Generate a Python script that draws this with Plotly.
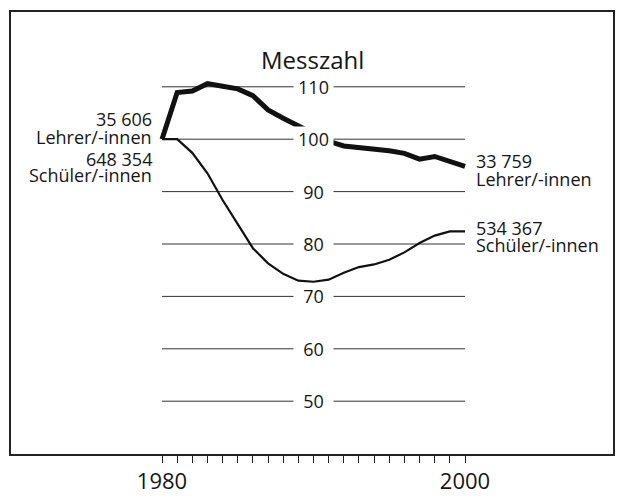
import plotly.graph_objects as go

# ---- data ----
years = list(range(1980, 2001))
lehrer = [100, 108.9, 109.2, 110.6, 110.1, 109.6, 108.3, 105.6, 104.0, 102.5, 101.0,
          99.6, 98.7, 98.4, 98.3, 97.8, 97.3, 96.2, 96.7, 95.8, 94.8]
schueler = [100, 100, 97.4, 93.5, 88.4, 83.7, 79.2, 76.3, 74.3, 73.0, 72.8,
            73.2, 74.5, 75.6, 76.1, 77.0, 78.4, 80.2, 81.6, 82.4, 82.4]
y_ticks = [50, 60, 70, 80, 90, 100, 110]
x_tick_labels = {1980: "1980", 2000: "2000"}
title_text = "Messzahl"
left_labels = ["35 606", "Lehrer/-innen", "648 354", "Schüler/-innen"]
right_lehrer = ["33 759", "Lehrer/-innen"]
right_schueler = ["534 367", "Schüler/-innen"]

FONT = "Open Sans"
TXT = "#151515"

# layout geometry (pixel -> data helpers)
W, H = 617, 498
L, R, T, B = 10, 3, 11, 43
X0_PX, X_PER = 162.0, 15.15    # 1980 pixel, px per year
Y100_PX, Y_PER = 139.2, 5.24   # value 100 pixel, px per unit
def px_x(p):
    return 1980 + (p - X0_PX) / X_PER
def px_y(p):
    return 100 + (Y100_PX - p) / Y_PER

fig = go.Figure()
fig.add_trace(go.Scatter(x=years, y=schueler, mode="lines",
                         line=dict(color="#111111", width=2.2),
                         hoverinfo="skip", showlegend=False))
fig.add_trace(go.Scatter(x=years, y=lehrer, mode="lines",
                         line=dict(color="#111111", width=5),
                         hoverinfo="skip", showlegend=False))

shapes = []
for v in y_ticks:
    shapes.append(dict(type="line", xref="x", yref="y", x0=years[0], x1=years[-1],
                       y0=v, y1=v, line=dict(color="#333333", width=1), layer="below"))
# frame
shapes.append(dict(type="rect", xref="paper", yref="paper", x0=0, x1=1, y0=0, y1=1,
                   line=dict(color="#222222", width=2), layer="above"))

annotations = []
for v in y_ticks:
    annotations.append(dict(x=1990, y=v, xref="x", yref="y", text=str(v), showarrow=False,
                            font=dict(family=FONT, size=18, color=TXT),
                            bgcolor="white", width=31, height=16, borderpad=4,
                            xanchor="center", yanchor="middle"))
annotations.append(dict(x=px_x(312), y=px_y(59), xref="x", yref="y", text=title_text,
                        showarrow=False, font=dict(family=FONT, size=24, color=TXT),
                        xanchor="center", yanchor="middle"))
for txt, ypx in zip(left_labels, [119, 137, 159, 175]):
    annotations.append(dict(x=px_x(154), y=px_y(ypx), xref="x", yref="y", text=txt,
                            showarrow=False, font=dict(family=FONT, size=18, color=TXT),
                            xanchor="right", yanchor="middle"))
for txt, ypx in zip(right_lehrer + right_schueler, [161, 179, 228, 245]):
    annotations.append(dict(x=px_x(474), y=px_y(ypx), xref="x", yref="y", text=txt,
                            showarrow=False, font=dict(family=FONT, size=18, color=TXT),
                            xanchor="left", yanchor="middle"))

fig.update_layout(
    width=W, height=H, autosize=False,
    margin=dict(l=L, r=R, t=T, b=B, pad=0),
    paper_bgcolor="white", plot_bgcolor="white",
    shapes=shapes, annotations=annotations,
    xaxis=dict(range=[px_x(L), px_x(W - R)], showgrid=False, zeroline=False,
               tickvals=years, ticktext=[x_tick_labels.get(y, "") for y in years],
               ticks="outside", ticklen=7, tickwidth=1, tickcolor="#222222",
               tickfont=dict(family=FONT, size=22, color=TXT), ticklabelstandoff=0,
               showline=False, automargin=False),
    yaxis=dict(range=[px_y(H - B), px_y(T)], showgrid=False, zeroline=False,
               showticklabels=False, ticks="", showline=False, automargin=False),
)

fig.write_html("out.html", config={"displayModeBar": False},
               post_script="document.body.style.margin='0';")
